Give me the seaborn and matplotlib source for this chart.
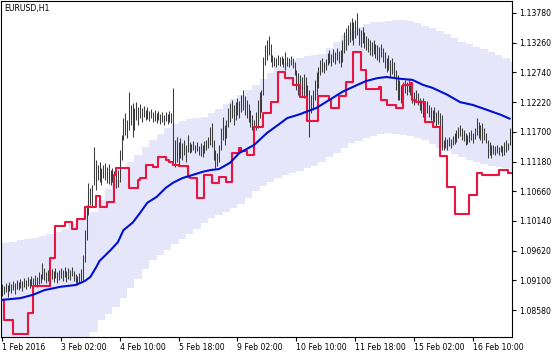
import matplotlib
matplotlib.use("Agg")
import matplotlib.pyplot as plt
import numpy as np
import seaborn as sns

# ---------------- data (EURUSD, H1) ----------------
bar_high = [
    1.0904,1.0900,1.0906,1.0902,1.0907,1.0904,1.0909,1.0906,1.0911,1.0907,
    1.0913,1.0909,1.0914,1.0911,1.0916,1.0913,1.0918,1.0914,1.0920,1.0916,
    1.0925,1.0921,1.0941,1.0932,1.0925,1.0928,1.0923,1.0930,1.0927,1.0932,
    1.0925,1.0928,1.0932,1.0928,1.0934,1.0927,1.0932,1.0928,1.0934,1.0927,
    1.0921,1.0918,1.0923,1.0930,1.0955,1.0998,1.1042,1.1081,1.1072,1.1077,
    1.1144,1.1121,1.1112,1.1117,1.1107,1.1112,1.1116,1.1109,1.1114,1.1103,
    1.1107,1.1102,1.1098,1.1103,1.1138,1.1165,1.1194,1.1203,1.1191,1.1240,
    1.1217,1.1221,1.1212,1.1222,1.1214,1.1219,1.1212,1.1215,1.1208,1.1214,
    1.1207,1.1210,1.1205,1.1208,1.1203,1.1207,1.1201,1.1205,1.1200,1.1205,
    1.1201,1.1207,1.1203,1.1247,1.1156,1.1161,1.1152,1.1159,1.1151,1.1156,
    1.1147,1.1165,1.1152,1.1149,1.1154,1.1147,1.1152,1.1145,1.1151,1.1147,
    1.1154,1.1156,1.1161,1.1179,1.1186,1.1156,1.1138,1.1133,1.1147,1.1177,
    1.1196,1.1182,1.1191,1.1212,1.1221,1.1226,1.1217,1.1222,1.1229,1.1224,
    1.1235,1.1243,1.1233,1.1226,1.1219,1.1208,1.1200,1.1191,1.1205,1.1226,
    1.1240,1.1243,1.1301,1.1322,1.1331,1.1338,1.1324,1.1305,1.1301,1.1299,
    1.1305,1.1301,1.1303,1.1299,1.1310,1.1301,1.1299,1.1303,1.1299,1.1292,
    1.1278,1.1273,1.1270,1.1266,1.1271,1.1266,1.1252,1.1243,1.1235,1.1243,
    1.1261,1.1275,1.1284,1.1296,1.1299,1.1292,1.1298,1.1308,1.1313,1.1306,
    1.1315,1.1310,1.1317,1.1312,1.1313,1.1331,1.1345,1.1352,1.1357,1.1362,
    1.1369,1.1362,1.1366,1.1378,1.1352,1.1348,1.1354,1.1345,1.1338,1.1334,
    1.1331,1.1327,1.1331,1.1324,1.1322,1.1319,1.1324,1.1317,1.1310,1.1299,
    1.1305,1.1296,1.1299,1.1292,1.1278,1.1270,1.1261,1.1252,1.1257,1.1261,
    1.1257,1.1261,1.1256,1.1243,1.1240,1.1243,1.1238,1.1229,1.1226,1.1229,
    1.1221,1.1224,1.1217,1.1214,1.1208,1.1214,1.1205,1.1208,1.1203,1.1200,
    1.1156,1.1161,1.1158,1.1161,1.1158,1.1163,1.1168,1.1173,1.1179,1.1182,
    1.1177,1.1173,1.1168,1.1165,1.1170,1.1173,1.1168,1.1177,1.1194,1.1187,
    1.1182,1.1186,1.1177,1.1168,1.1156,1.1152,1.1147,1.1147,1.1145,1.1147,
    1.1144,1.1147,1.1145,1.1152,1.1156,1.1151,1.1177,
]
bar_low = [
    1.0883,1.0886,1.0890,1.0881,1.0892,1.0888,1.0893,1.0886,1.0895,1.0893,
    1.0897,1.0892,1.0899,1.0895,1.0900,1.0897,1.0900,1.0899,1.0902,1.0899,
    1.0904,1.0906,1.0913,1.0911,1.0906,1.0909,1.0904,1.0913,1.0907,1.0914,
    1.0906,1.0911,1.0914,1.0909,1.0916,1.0907,1.0913,1.0911,1.0918,1.0909,
    1.0906,1.0902,1.0907,1.0909,1.0911,1.0942,1.0981,1.1025,1.1042,1.1039,
    1.1077,1.1068,1.1086,1.1082,1.1077,1.1089,1.1086,1.1081,1.1079,1.1077,
    1.1082,1.1075,1.1072,1.1074,1.1082,1.1121,1.1156,1.1165,1.1159,1.1173,
    1.1182,1.1161,1.1173,1.1191,1.1182,1.1194,1.1187,1.1196,1.1191,1.1193,
    1.1189,1.1194,1.1187,1.1189,1.1186,1.1191,1.1184,1.1187,1.1182,1.1189,
    1.1184,1.1187,1.1186,1.1112,1.1109,1.1117,1.1112,1.1124,1.1121,1.1130,
    1.1117,1.1135,1.1133,1.1135,1.1138,1.1133,1.1137,1.1130,1.1128,1.1126,
    1.1133,1.1138,1.1142,1.1147,1.1144,1.1121,1.1107,1.1110,1.1117,1.1138,
    1.1156,1.1147,1.1159,1.1179,1.1187,1.1194,1.1182,1.1191,1.1200,1.1194,
    1.1205,1.1208,1.1200,1.1194,1.1187,1.1179,1.1173,1.1168,1.1173,1.1177,
    1.1194,1.1205,1.1235,1.1287,1.1296,1.1305,1.1292,1.1284,1.1285,1.1284,
    1.1287,1.1285,1.1289,1.1284,1.1278,1.1285,1.1284,1.1287,1.1282,1.1270,
    1.1243,1.1235,1.1238,1.1231,1.1229,1.1226,1.1212,1.1161,1.1203,1.1208,
    1.1226,1.1235,1.1247,1.1270,1.1275,1.1273,1.1278,1.1287,1.1291,1.1285,
    1.1292,1.1289,1.1296,1.1291,1.1284,1.1292,1.1308,1.1313,1.1322,1.1327,
    1.1331,1.1322,1.1334,1.1340,1.1322,1.1319,1.1326,1.1317,1.1313,1.1310,
    1.1305,1.1303,1.1306,1.1299,1.1296,1.1292,1.1301,1.1292,1.1282,1.1275,
    1.1278,1.1266,1.1271,1.1266,1.1243,1.1226,1.1226,1.1221,1.1229,1.1238,
    1.1235,1.1240,1.1235,1.1221,1.1217,1.1222,1.1217,1.1208,1.1203,1.1196,
    1.1200,1.1203,1.1196,1.1191,1.1182,1.1187,1.1180,1.1184,1.1177,1.1138,
    1.1138,1.1142,1.1138,1.1145,1.1142,1.1147,1.1149,1.1152,1.1159,1.1163,
    1.1156,1.1154,1.1147,1.1149,1.1152,1.1156,1.1151,1.1158,1.1165,1.1159,
    1.1156,1.1151,1.1156,1.1151,1.1124,1.1130,1.1124,1.1131,1.1130,1.1133,
    1.1130,1.1135,1.1128,1.1130,1.1135,1.1138,1.1147,
]

# stepped red indicator: bar index where each level starts, and level
red_start = [0,1,6,14,17,26,29,34,38,41,45,51,53,57,61,62,69,74,75,78,82,85,89,91,93,96,
             101,102,106,110,114,118,122,125,129,130,133,137,142,146,150,154,158,162,166,
             172,178,179,183,187,191,195,198,205,206,209,214,218,222,223,225,230,234,238,
             242,246,254,258,261,270,275,277]
red_level = [1.0876,1.0841,1.0816,1.0853,1.0900,1.0949,1.1005,1.1012,1.1000,1.1018,1.1039,
             1.1058,1.1039,1.1047,1.1095,1.1107,1.1072,1.1086,1.1089,1.1112,1.1109,1.1126,
             1.1121,1.1117,1.1112,1.1110,1.1091,1.1089,1.1054,1.1095,1.1081,1.1091,1.1082,
             1.1133,1.1142,1.1137,1.1130,1.1179,1.1203,1.1222,1.1275,1.1264,1.1252,1.1231,
             1.1189,1.1233,1.1226,1.1212,1.1233,1.1257,1.1310,1.1278,1.1245,1.1249,1.1226,
             1.1217,1.1212,1.1252,1.1256,1.1226,1.1222,1.1187,1.1179,1.1128,1.1074,1.1026,
             1.1060,1.1098,1.1095,1.1103,1.1098,1.1098]

# blue moving average
blue_idx = [0,10,17,23,32,40,45,48,51,53,59,63,66,71,75,79,84,89,93,98,104,109,113,118,
            124,129,137,144,150,155,162,171,178,185,193,198,204,209,216,223,229,234,242,
            249,256,264,271,276]
blue_val = [1.0876,1.0879,1.0885,1.0893,1.0899,1.0902,1.0909,1.0916,1.0932,1.0944,1.0963,
            1.0977,1.0998,1.1011,1.1028,1.1046,1.1056,1.1072,1.1081,1.1089,1.1095,1.1100,
            1.1103,1.1105,1.1116,1.1133,1.1147,1.1168,1.1182,1.1194,1.1201,1.1212,1.1226,
            1.1240,1.1252,1.1259,1.1264,1.1266,1.1263,1.1261,1.1252,1.1247,1.1235,1.1222,
            1.1217,1.1208,1.1200,1.1193]

# stepped envelope band, one level per 4 bars
band_idx = [0,4,8,12,16,20,24,28,32,36,40,44,48,52,56,60,64,68,72,76,80,84,88,92,96,100,
            104,108,112,116,120,124,128,132,136,140,144,148,152,156,160,164,168,172,176,
            180,184,188,192,196,200,204,208,212,216,220,224,228,232,236,240,244,248,252,
            256,260,264,268,272,276,278]
band_upper = [1.0976,1.0978,1.0981,1.0983,1.0985,1.0988,1.0991,1.0994,1.1000,1.1008,1.1015,
              1.1022,1.1030,1.1050,1.1070,1.1085,1.1103,1.1117,1.1130,1.1143,1.1156,1.1166,
              1.1176,1.1183,1.1189,1.1192,1.1194,1.1196,1.1203,1.1210,1.1218,1.1227,1.1235,
              1.1243,1.1252,1.1262,1.1273,1.1283,1.1290,1.1295,1.1299,1.1302,1.1304,1.1307,
              1.1316,1.1328,1.1340,1.1348,1.1353,1.1358,1.1362,1.1363,1.1364,1.1365,1.1366,
              1.1364,1.1360,1.1356,1.1352,1.1347,1.1342,1.1335,1.1328,1.1323,1.1319,1.1315,
              1.1309,1.1305,1.1300,1.1293,1.1292]
band_lower = [1.0775,1.0775,1.0775,1.0775,1.0775,1.0775,1.0775,1.0775,1.0775,1.0775,1.0775,
              1.0790,1.0820,1.0840,1.0852,1.0864,1.0879,1.0896,1.0913,1.0930,1.0946,1.0955,
              1.0964,1.0973,1.0982,1.0991,1.1000,1.1010,1.1019,1.1025,1.1030,1.1036,1.1044,
              1.1055,1.1066,1.1076,1.1083,1.1090,1.1094,1.1098,1.1101,1.1106,1.1111,1.1118,
              1.1126,1.1133,1.1142,1.1150,1.1154,1.1159,1.1163,1.1166,1.1168,1.1167,1.1165,
              1.1162,1.1159,1.1155,1.1149,1.1142,1.1136,1.1131,1.1126,1.1121,1.1117,1.1113,
              1.1111,1.1109,1.1106,1.1101,1.1100]

x_tick_idx = [0, 32, 64, 96, 128, 160, 192, 224, 256]
x_tick_labels = ["1 Feb 2016", "3 Feb 02:00", "4 Feb 10:00", "5 Feb 18:00", "9 Feb 02:00",
                 "10 Feb 10:00", "11 Feb 18:00", "15 Feb 02:00", "16 Feb 10:00"]
y_ticks = [1.08580, 1.09100, 1.09620, 1.10140, 1.10660, 1.11180, 1.11700,
           1.12220, 1.12740, 1.13260, 1.13780]

# ---------------- drawing ----------------
sns.set_style("white")
plt.rcParams["font.family"] = ["DejaVu Sans"]

W, H = 560, 357
fig = plt.figure(figsize=(W / 100, H / 100), dpi=100)
ax = fig.add_axes([1 / W, 20 / H, 511 / W, 336 / H])

ax.fill_between(band_idx, band_lower, band_upper, step="post",
                color="#E6E6FA", lw=0, zorder=1)

idx = np.arange(len(bar_high))
ax.vlines(idx, bar_low, bar_high, color="#3c3c3c", lw=0.75, zorder=2)

sns.lineplot(x=red_start, y=red_level, drawstyle="steps-post", color="#E8153F",
             lw=1.5, ax=ax, estimator=None, sort=False, zorder=3)
sns.lineplot(x=blue_idx, y=blue_val, color="#0010D0", lw=1.5, ax=ax,
             estimator=None, sort=False, zorder=4)

ax.set_xlim(-0.54, 277.2)
ax.set_ylim(1.0811, 1.1399)

ax.yaxis.tick_right()
ax.set_yticks(y_ticks)
ax.set_yticklabels([f"{v:.5f}" for v in y_ticks])
ax.set_xticks(x_tick_idx)
ax.set_xticklabels(x_tick_labels, ha="left")
ax.set_xlabel("")
ax.set_ylabel("")

ax.tick_params(axis="y", right=True, left=False, labelright=True, labelleft=False,
               direction="out", length=3, width=0.8, pad=2, labelsize=5.6, colors="black")
ax.tick_params(axis="x", bottom=True, direction="out", length=3, width=0.8,
               pad=1.5, labelsize=5.6, colors="black")
for s in ax.spines.values():
    s.set_visible(True)
    s.set_color("black")
    s.set_linewidth(0.8)

ax.text(3 / 511, 1 - 3 / 336, "EURUSD,H1", transform=ax.transAxes, ha="left", va="top",
        fontsize=5.6, color="black", zorder=5)

fig.savefig("out.png", dpi=100)
